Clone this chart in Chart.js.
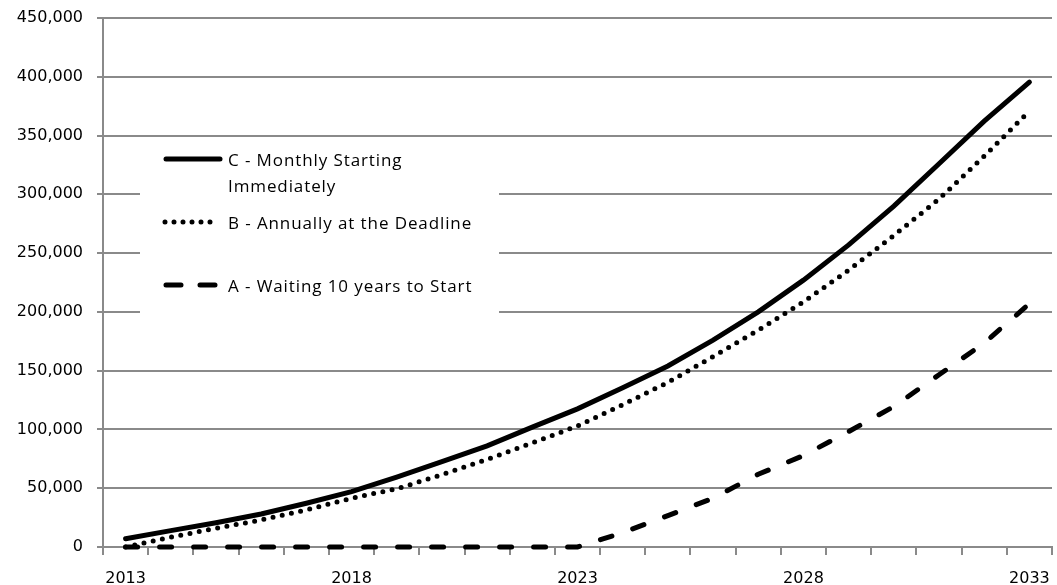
<!DOCTYPE html>
<html>
<head>
<meta charset="utf-8">
<script src="https://cdn.jsdelivr.net/npm/chart.js@4"></script>
<style>
  html, body { margin: 0; padding: 0; background: #fff; }
  #wrap { width: 1057px; height: 585px; position: relative; }
  .legend-text {
    position: absolute; left: 228px;
    font: 17px/20px "Open Sans", sans-serif; letter-spacing: 0.9px;
    color: #000; white-space: nowrap;
  }
</style>
</head>
<body>
<div id="wrap">
  <canvas id="growthChart" width="1057" height="585"></canvas>
  <div id="legendText"></div>
</div>
<script>
// Years on the x axis
const years = ['2013', '2014', '2015', '2016', '2017', '2018', '2019', '2020', '2021', '2022',
    '2023', '2024', '2025', '2026', '2027', '2028', '2029', '2030', '2031', '2032', '2033'];
const labeledYears = ['2013', '2018', '2023', '2028', '2033'];

// Series values
const monthlyNow = [7000, 13900, 20700, 28100, 37200, 47100, 59500, 72700, 86000, 102000,
    117500, 135500, 154000, 176000, 200000, 227000, 257000, 290000, 326000, 362300, 395500];
const annualDeadline = [0, 8300, 15900, 23000, 31500, 41500, 49500, 61500, 74500, 88500,
    103000, 121000, 140000, 162000, 184500, 208500, 235500, 265000, 296000, 332500, 370800];
const waitTenYears = [0, 0, 0, 0, 0, 0, 0, 0, 0, 0,
    0, 12200, 26700, 41500, 61900, 77800, 98200, 119500, 146500, 173500, 207000];

const yTicks = [0, 50000, 100000, 150000, 200000, 250000, 300000, 350000, 400000, 450000];

const gridGray = '#8a8a8a';
const tickFont = { family: "'DejaVu Sans', Verdana, sans-serif", size: 16 };

// Legend rows: dataset index, vertical centre, text lines
const legendRows = [
    { index: 0, y: 159, lines: ['C - Monthly Starting', 'Immediately'] },
    { index: 1, y: 222, lines: ['B - Annually at the Deadline'] },
    { index: 2, y: 285, lines: ['A - Waiting 10 years to Start'] }
];

// legend text as real text over the canvas
const legendBox = document.getElementById('legendText');
legendRows.forEach(r => {
    r.lines.forEach((t, i) => {
        const el = document.createElement('div');
        el.className = 'legend-text';
        el.style.top = (r.y + 1 - 10 + i * 26) + 'px';
        el.textContent = t;
        legendBox.appendChild(el);
    });
});

// white legend box and line samples inside the plot
const insideLegend = {
    id: 'insideLegend',
    afterDatasetsDraw(chart) {
        const ctx = chart.ctx;
        ctx.save();
        ctx.fillStyle = '#fff';
        ctx.fillRect(140, 140, 359, 180);
        legendRows.forEach(r => {
            const ds = chart.data.datasets[r.index];
            const dotted = ds.legendDash.length && ds.legendDash[0] === 0;
            ctx.beginPath();
            ctx.strokeStyle = ds.borderColor;
            ctx.lineWidth = ds.borderWidth;
            ctx.lineCap = ds.borderCapStyle;
            ctx.setLineDash(ds.legendDash);
            ctx.moveTo(dotted ? 165 : 166, r.y);
            ctx.lineTo(dotted ? 218 : 220, r.y);
            ctx.stroke();
        });
        ctx.restore();
    }
};

function noPad(scale) {
    scale.paddingTop = 0;
    scale.paddingBottom = 0;
    scale.paddingLeft = 0;
    scale.paddingRight = 0;
}

const ctx = document.getElementById('growthChart').getContext('2d');
new Chart(ctx, {
    type: 'line',
    data: {
        labels: years,
        datasets: [{
            label: 'C - Monthly Starting Immediately',
            data: monthlyNow,
            borderColor: '#000',
            borderWidth: 5,
            borderCapStyle: 'round',
            legendDash: [],
            pointRadius: 0,
            tension: 0,
            clip: false
        },
        {
            label: 'B - Annually at the Deadline',
            data: annualDeadline,
            borderColor: '#000',
            borderWidth: 5,
            borderCapStyle: 'round',
            borderDash: [0, 9.4],
            legendDash: [0, 9],
            pointRadius: 0,
            tension: 0,
            clip: false
        },
        {
            label: 'A - Waiting 10 years to Start',
            data: waitTenYears,
            borderColor: '#000',
            borderWidth: 5,
            borderCapStyle: 'round',
            borderDash: [12, 22],
            legendDash: [15, 19],
            pointRadius: 0,
            tension: 0,
            clip: false
        }]
    },
    options: {
        responsive: false,
        animation: false,
        devicePixelRatio: 1,
        layout: { padding: { top: 18, right: 5, left: 0, bottom: 0 } },
        plugins: {
            legend: { display: false },
            tooltip: { enabled: false }
        },
        scales: {
            x: {
                type: 'category',
                offset: true,
                grid: {
                    offset: true,
                    drawOnChartArea: false,
                    drawTicks: true,
                    tickLength: 8,
                    color: gridGray,
                    lineWidth: 2
                },
                border: { display: true, color: gridGray, width: 2 },
                ticks: {
                    autoSkip: false,
                    maxRotation: 0,
                    padding: 14,
                    color: '#000',
                    font: tickFont,
                    callback: function (val) {
                        const y = this.getLabelForValue(val);
                        return labeledYears.includes(y) ? y : '';
                    }
                },
                afterFit(scale) { scale.height = 38; noPad(scale); }
            },
            y: {
                min: 0,
                max: 450000,
                afterBuildTicks(scale) { scale.ticks = yTicks.map(v => ({ value: v })); },
                grid: {
                    color: gridGray,
                    lineWidth: 2,
                    tickLength: 6
                },
                border: { display: true, color: gridGray, width: 2 },
                ticks: {
                    padding: 14,
                    color: '#000',
                    font: tickFont,
                    callback: v => v.toLocaleString('en-US')
                },
                afterFit(scale) { scale.width = 103; noPad(scale); }
            }
        }
    },
    plugins: [insideLegend]
});
</script>
</body>
</html>
